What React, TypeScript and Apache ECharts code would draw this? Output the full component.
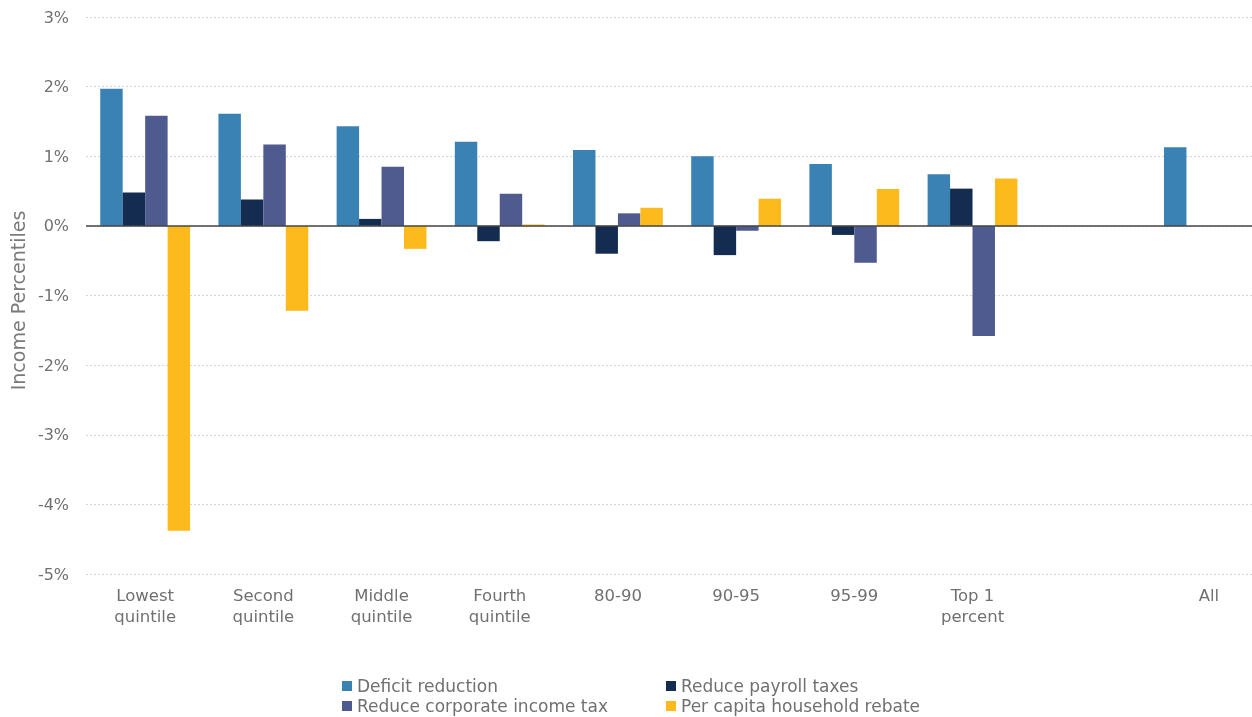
import React, { useEffect, useRef } from "react";
import * as echarts from "echarts";

const categories = [
  "Lowest\nquintile",
  "Second\nquintile",
  "Middle\nquintile",
  "Fourth\nquintile",
  "80-90",
  "90-95",
  "95-99",
  "Top 1\npercent",
  "",
  "All",
];

const deficitReduction = [1.97, 1.61, 1.43, 1.21, 1.09, 1.0, 0.89, 0.74, null, 1.13];
const reducePayrollTaxes = [0.48, 0.38, 0.1, -0.22, -0.4, -0.42, -0.13, 0.535, null, null];
const reduceCorporateIncomeTax = [1.58, 1.17, 0.85, 0.46, 0.18, -0.07, -0.53, -1.58, null, null];
const perCapitaHouseholdRebate = [-4.38, -1.22, -0.33, 0.02, 0.26, 0.39, 0.53, 0.68, null, null];

const yTicks = { min: -5, max: 3, interval: 1 };

const seriesNames = [
  "Deficit reduction",
  "Reduce payroll taxes",
  "Reduce corporate income tax",
  "Per capita household rebate",
];
const colors = ["#3A82B4", "#132C50", "#4F5B8E", "#FDBA1D"];

const FONT = "'DejaVu Sans', sans-serif";
const TEXT = "#707070";

export default function App() {
  const ref = useRef<HTMLDivElement>(null);
  useEffect(() => {
    if (!ref.current) return;
    const chart = echarts.init(ref.current, null, { renderer: "svg" });
    const dataSets = [deficitReduction, reducePayrollTaxes, reduceCorporateIncomeTax, perCapitaHouseholdRebate];
    const legendCommon = {
      orient: "vertical" as const,
      itemWidth: 10,
      itemHeight: 10,
      itemGap: 0,
      padding: 0,
      icon: "rect",
      textStyle: { fontFamily: FONT, fontSize: 17, color: TEXT, lineHeight: 20 },
      selectedMode: false,
    };
    chart.setOption({
      animation: false,
      color: colors,
      textStyle: { fontFamily: FONT },
      grid: { left: 82, right: 0, top: 17, bottom: 143, containLabel: false },
      legend: [
        { ...legendCommon, left: 342, top: 676, data: [seriesNames[0], seriesNames[2]] },
        { ...legendCommon, left: 666, top: 676, data: [seriesNames[1], seriesNames[3]] },
      ],
      xAxis: {
        type: "category",
        data: categories,
        axisLine: { show: false, onZero: false },
        axisTick: { show: false },
        axisLabel: {
          fontFamily: FONT,
          fontSize: 16.5,
          color: TEXT,
          lineHeight: 21,
          margin: 11,
          interval: 0,
        },
      },
      yAxis: {
        type: "value",
        min: yTicks.min,
        max: yTicks.max,
        interval: yTicks.interval,
        name: "Income Percentiles",
        nameLocation: "middle",
        nameGap: 54,
        nameTextStyle: { fontFamily: FONT, fontSize: 19, color: "#7a7a7a", padding: [0, 10, 0, 0] },
        axisLine: { show: false },
        axisTick: { show: false },
        axisLabel: {
          formatter: "{value}%",
          fontFamily: FONT,
          fontSize: 16,
          color: TEXT,
          margin: 17,
        },
        splitLine: { show: true, lineStyle: { type: [2, 2], color: "#d4d4d4", width: 1 } },
      },
      series: seriesNames.map((name, i) => ({
        name,
        type: "bar",
        data: dataSets[i],
        barGap: "0%",
        barCategoryGap: "24%",
        itemStyle: { color: colors[i] },
        markLine:
          i === 0
            ? {
                silent: true,
                symbol: "none",
                label: { show: false },
                lineStyle: { type: "solid", color: "#444", width: 1.5 },
                data: [{ yAxis: 0 }],
              }
            : undefined,
      })),
    });
    return () => chart.dispose();
  }, []);
  return (
    <div
      ref={ref}
      style={{ position: "fixed", left: 0, top: 0, width: 1268, height: 717 }}
    />
  );
}
